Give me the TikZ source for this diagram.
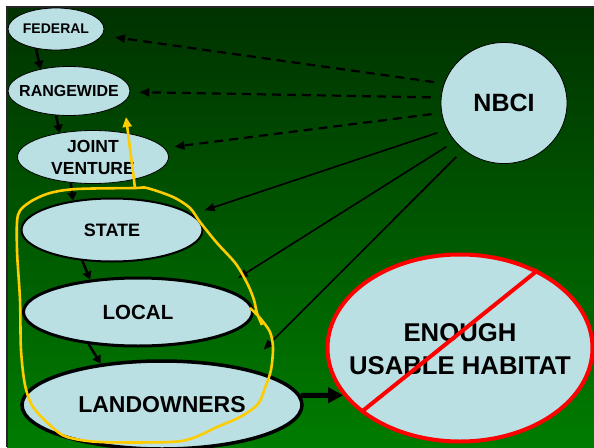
\documentclass[tikz,border=0pt]{standalone}
\usepackage{fontspec}
\setmainfont{Liberation Sans}
\usetikzlibrary{shapes.geometric, arrows.meta}
\definecolor{paleblue}{RGB}{187,224,228}
\definecolor{darkbg}{RGB}{0,50,0}
\definecolor{lightbg}{RGB}{0,124,0}
\definecolor{marker}{RGB}{255,204,0}
\newcommand{\lvltext}[1]{\makebox[0pt]{\raisebox{-0.38em}[0pt][0pt]{\begin{tabular}{@{}c@{}}#1\end{tabular}}}}
\tikzset{
  blob/.style={ellipse, fill=paleblue, draw=black, inner sep=0pt},
  lvlarrow/.style={-{Triangle[length=8pt,width=9pt]}, line width=2.5pt},
  nbciline/.style={-{Triangle[length=10pt,width=8pt]}, line width=1.6pt, shorten <=10pt},
  nbcidash/.style={nbciline, line width=2.2pt, dash pattern=on 9pt off 6pt},
}
\begin{document}
\begin{tikzpicture}[x=1pt,y=-1pt]
\useasboundingbox (0,0) rectangle (594,447);
\shade[top color=darkbg, bottom color=lightbg] (7,7) rectangle (594,447);
\draw[line width=1.5pt, black!85] (7,447) -- (7,7) -- (594,7);

% levels
\node[blob, line width=0.8pt, minimum width=96pt, minimum height=42pt, font=\bfseries\fontsize{14}{16}\selectfont] (fed) at (56,29) {\lvltext{FEDERAL}};
\node[blob, line width=0.8pt, minimum width=122pt, minimum height=49pt, font=\bfseries\fontsize{16}{18}\selectfont] (rng) at (69,91) {\lvltext{RANGEWIDE}};
\node[blob, line width=0.8pt, minimum width=151pt, minimum height=53pt, font=\bfseries\fontsize{17.5}{22}\selectfont] (jv) at (93,157) {\lvltext{JOINT\\VENTURE}};
\node[blob, line width=2pt, minimum width=181pt, minimum height=63pt, font=\bfseries\fontsize{18}{20}\selectfont] (state) at (112,230) {\lvltext{STATE}};
\node[blob, line width=3pt, minimum width=229pt, minimum height=68pt, font=\bfseries\fontsize{20.5}{22}\selectfont] (local) at (138,312) {\lvltext{LOCAL}};
\node[blob, line width=3.5pt, minimum width=280pt, minimum height=88pt, font=\bfseries\fontsize{23}{25}\selectfont] (land) at (162,405) {\lvltext{LANDOWNERS}};
\node[blob, line width=0.8pt, minimum width=126pt, minimum height=121pt, font=\bfseries\fontsize{25}{27}\selectfont] (nbci) at (504,103) {\lvltext{NBCI}};
\node[blob, draw=red, line width=4pt, minimum width=265pt, minimum height=187pt, font=\bfseries\fontsize{25.7}{33}\selectfont] (enough) at (460,348) {\lvltext{ENOUGH\\USABLE HABITAT}};
\draw[red, line width=4pt] (enough.213) -- (enough.45);

% chain
\draw[lvlarrow] (fed.224) -- (rng.142);
\draw[lvlarrow] (rng.242) -- (jv.144);
\draw[lvlarrow] (jv.229) -- (state.143);
\draw[lvlarrow] (state.226) -- (local.146);
\draw[lvlarrow] (local.213) -- (land.146);
\draw[-{Triangle[length=15pt,width=15pt]}, line width=5pt] (land.4) -- (enough.202);

% NBCI links
\draw[nbcidash, shorten >=13pt] (nbci.162) -- (fed);
\draw[nbcidash, shorten >=9pt] (nbci.175) -- (rng);
\draw[nbcidash, shorten >=10pt] (nbci.189) -- (jv);
\draw[nbciline, shorten >=13pt] (nbci.205) -- (state.11);
\draw[nbciline, shorten >=18pt] (nbci.218) -- (local.16);
\draw[nbciline, shorten >=26pt] (nbci.229) -- (land.24);

% marker
\draw[marker, line width=2.6pt] plot[smooth, tension=0.5] coordinates {(250,308) (260,318) (270,332) (273,348) (271,370) (266,385) (258,404) (240,417) (217,427) (193,438) (170,442) (100,442) (67,437) (52,427) (33,407) (25,385) (21,350) (20,300) (17,250) (18,215) (30,202) (50,193) (77,189) (135,188) (147,188) (173,197) (190,208) (200,222) (217,243) (236,264) (248,285) (254,300) (257,313) (262,325)};
\draw[marker, line width=2.6pt, -{Triangle[length=10pt,width=9pt]}] (135,188) -- (126,117);
\end{tikzpicture}
\end{document}
